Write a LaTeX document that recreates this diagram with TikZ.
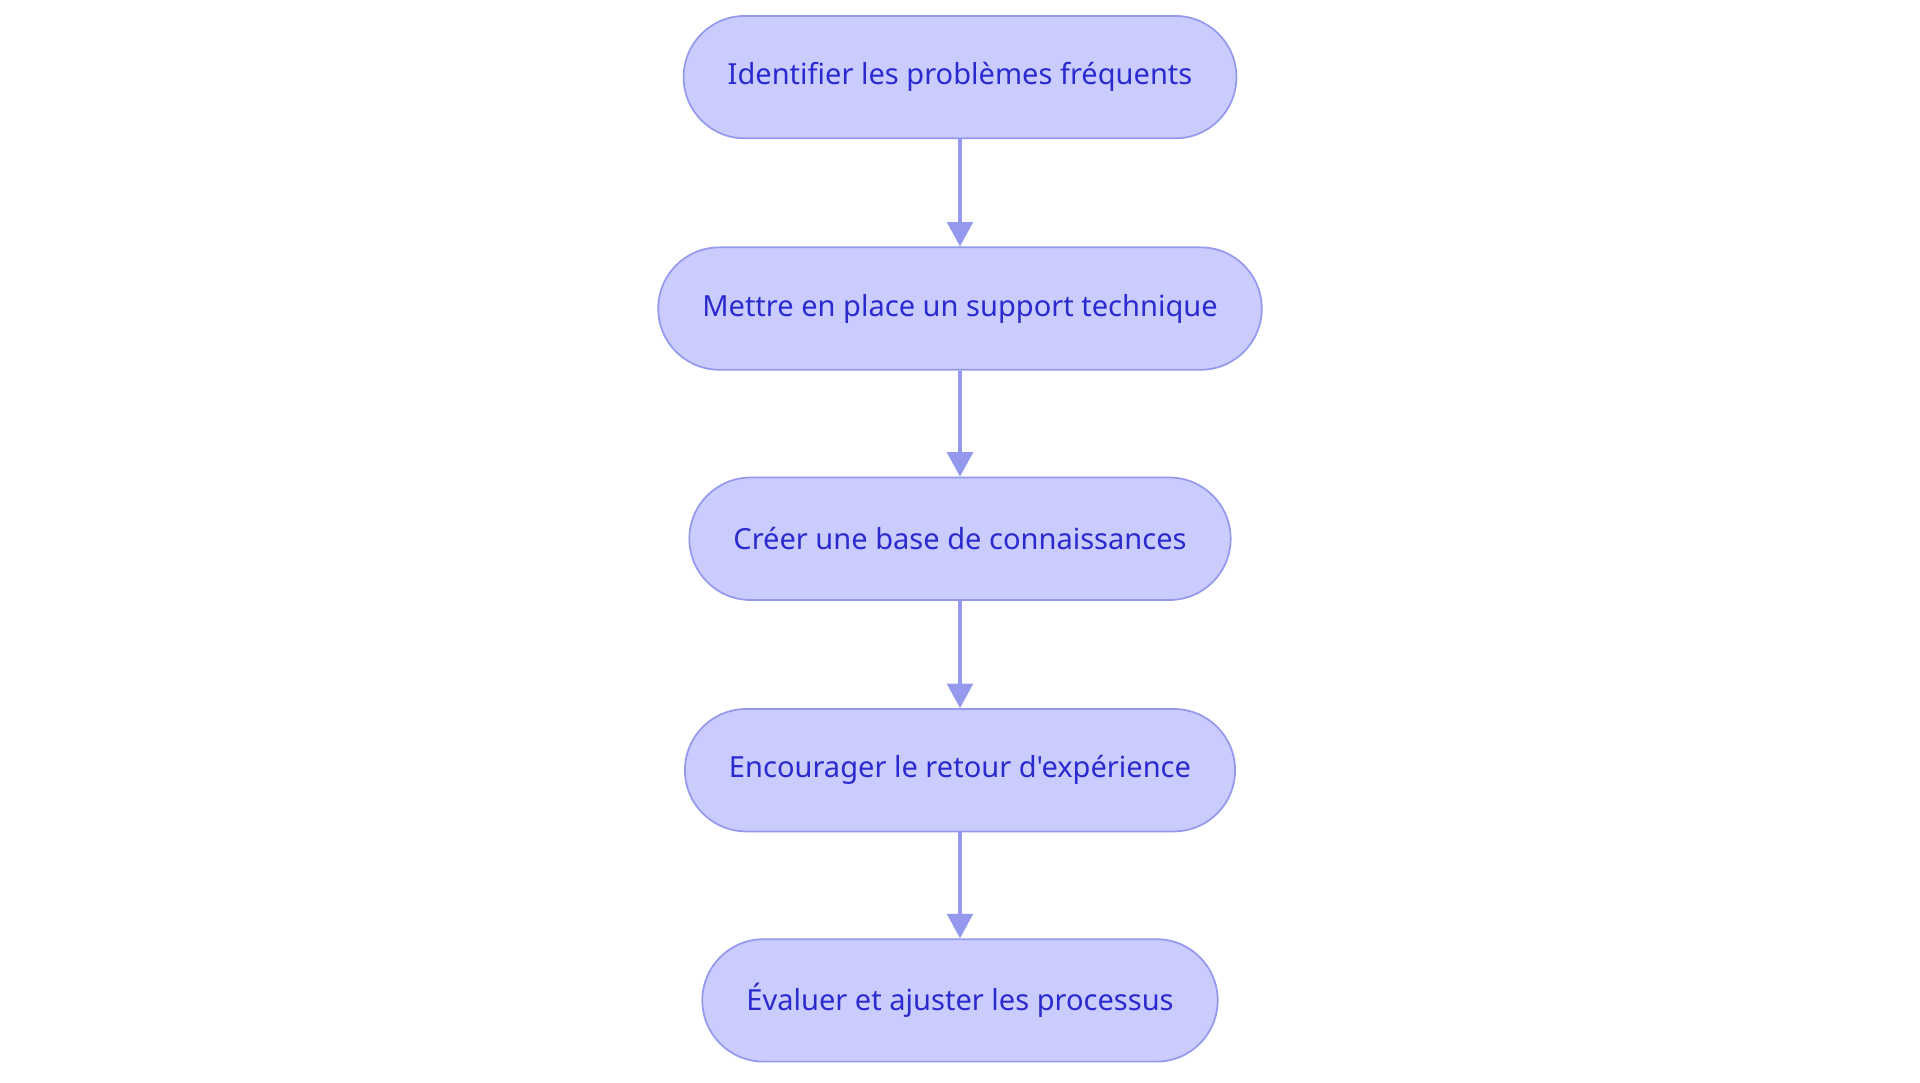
\documentclass[tikz,border=0pt]{standalone}
\usepackage{fontspec}
\setmainfont{Noto Sans}[Ligatures=TeXOff]
\usetikzlibrary{positioning,arrows.meta}
\definecolor{stepfill}{HTML}{CACCFE}
\definecolor{stepline}{HTML}{9499EE}
\definecolor{steptext}{HTML}{2A2ACF}
\begin{document}
\begin{tikzpicture}
[
    x=0.02cm, y=-0.02cm,
    stepbox/.style={draw=stepline, fill=stepfill, text=steptext, line width=0.8pt,
        rounded corners=1cm, minimum height=2cm, inner xsep=0.72cm,
        font=\fontsize{13.5}{16}\selectfont},
    flow/.style={draw=stepline, line width=1.6pt, -{Triangle[length=0.4cm,width=0.42cm]}},
]
\useasboundingbox (0,0) rectangle (1568,884);
\node [stepbox] (ident) at (784,63) {Identifier les problèmes fréquents};
\node [stepbox] (support) at (784,252) {Mettre en place un support technique};
\node [stepbox] (base) at (784,440) {Créer une base de connaissances};
\node [stepbox] (retour) at (784,629) {Encourager le retour d'expérience};
\node [stepbox] (eval) at (784,817) {Évaluer et ajuster les processus};
\draw [flow] (ident) -- (support);
\draw [flow] (support) -- (base);
\draw [flow] (base) -- (retour);
\draw [flow] (retour) -- (eval);
\end{tikzpicture}
\end{document}
